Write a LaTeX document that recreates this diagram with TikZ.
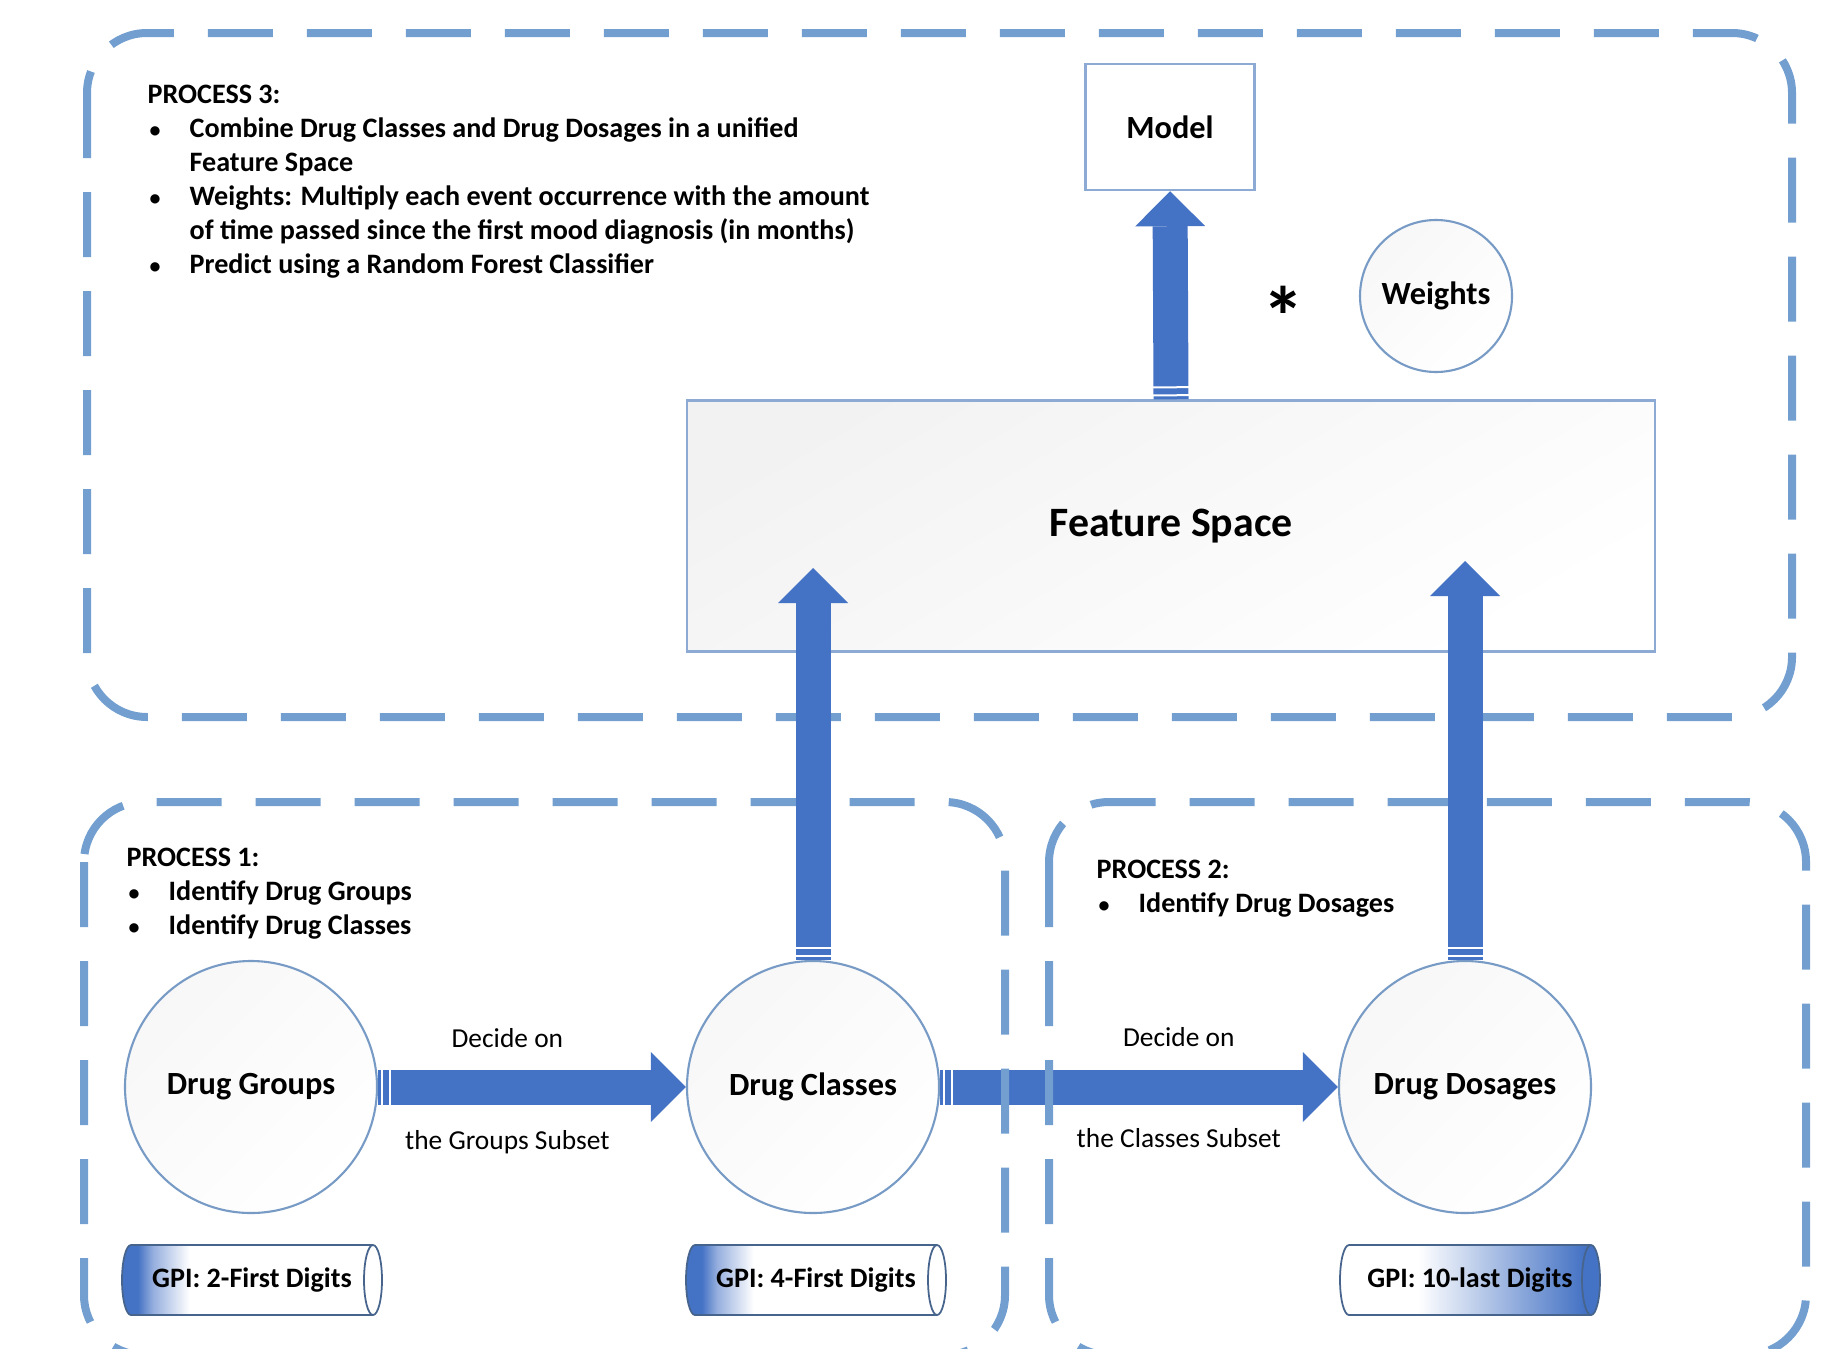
\documentclass[tikz,border=0pt]{standalone}
\usepackage{fontspec}
\setmainfont{Carlito}
\usetikzlibrary{calc,arrows.meta,positioning,decorations.markings}
\definecolor{procdash}{RGB}{114,159,207}
\definecolor{arrowblue}{RGB}{68,114,196}
\definecolor{gpimid}{RGB}{150,175,222}
\definecolor{nodeline}{RGB}{120,155,198}
\definecolor{boxline}{RGB}{140,170,212}
\definecolor{cylline}{RGB}{70,100,140}
\pgfdeclarehorizontalshading{gpileft}{100bp}{color(0bp)=(arrowblue); color(28bp)=(arrowblue); color(31bp)=(gpimid); color(38bp)=(white); color(100bp)=(white)}
\pgfdeclarehorizontalshading{gpiright}{100bp}{color(0bp)=(white); color(40bp)=(white); color(72bp)=(arrowblue); color(100bp)=(arrowblue)}
\newcommand{\pitem}[1]{\makebox[0.42cm][l]{\hspace{0.02cm}\scalebox{0.78}{\textbullet}}#1}
\newcommand{\pcont}[1]{\hspace*{0.42cm}#1}
\newcommand{\gpicyl}[4]{%
  \shade[shading=#3, draw=cylline, line width=0.5pt] ($(#2)+(1.21,0.35)$) -- ($(#2)+(-1.21,0.35)$)
    arc[start angle=90, end angle=270, x radius=0.09, y radius=0.35] -- ($(#2)+(1.21,-0.35)$)
    arc[start angle=-90, end angle=90, x radius=0.09, y radius=0.35] -- cycle;
  \draw[cylline, line width=0.5pt] ($(#2)+(1.21,-0.35)$) arc[start angle=270, end angle=90, x radius=0.09, y radius=0.35];
  \node[gpitext] (#1) at (#2) {#4};}
\tikzset{
  procbox/.style={draw=procdash, line width=0.08cm, rounded corners=0.6cm, dash pattern=on 0.65cm off 0.34cm},
  drugnode/.style={circle, draw=nodeline, line width=0.6pt, minimum size=2.52cm, inner sep=0pt,
                   top color=black!3, bottom color=white, shading angle=45,
                   font=\fontsize{9.2}{11}\selectfont\bfseries},
  featbox/.style={rectangle, draw=boxline, line width=0.7pt, minimum width=9.68cm, minimum height=2.51cm,
                  top color=black!5, bottom color=white, shading angle=30,
                  font=\fontsize{11.9}{14}\selectfont\bfseries},
  modelbox/.style={rectangle, draw=boxline, fill=white, line width=0.7pt, minimum width=1.69cm,
                   minimum height=1.26cm, font=\fontsize{9.2}{11}\selectfont\bfseries},
  proctext/.style={anchor=base west, inner sep=0pt, font=\fontsize{8}{9.73}\selectfont\bfseries},
  gpitext/.style={inner sep=0pt, font=\fontsize{8}{10}\selectfont\bfseries},
  arrowlabel/.style={inner sep=0pt, text=black, font=\fontsize{7.8}{9.5}\selectfont},
  gstripe/.style={-, draw=white, line width=0.02cm},
  gblock/.style={arrowblue, line width=0.35cm, -{Triangle[length=0.35cm, width=0.70cm, line width=0pt]},
                 postaction={decorate, decoration={markings,
                   mark=at position 0.04cm with {\draw[gstripe] (0,-0.18) -- (0,0.18);},
                   mark=at position 0.12cm with {\draw[gstripe] (0,-0.18) -- (0,0.18);}}}},
}
\begin{document}
\begin{tikzpicture}
\useasboundingbox (0,0) rectangle (18.28,-13.48);
\clip (0,0) rectangle (18.28,-13.48);
% process 3
\draw[procbox] (0.87,-0.33) rectangle (17.92,-7.17);
\node[proctext] (p3) at (1.47,-1.03) {\begin{tabular}[t]{@{}l@{}}PROCESS 3:\\
  \pitem{Combine Drug Classes and Drug Dosages in a unified}\\
  \pcont{Feature Space}\\
  \pitem{Weights: Multiply each event occurrence with the amount}\\
  \pcont{of time passed since the first mood diagnosis (in months)}\\
  \pitem{Predict using a Random Forest Classifier}\end{tabular}};
\node[featbox] (fs) at (11.71,-5.26) {Feature Space};
\node[modelbox] (model) at (11.70,-1.27) {Model};
\node[drugnode, minimum size=1.52cm] (weights) at (14.36,-2.96) {Weights};
\node[inner sep=0pt, font=\fontsize{24}{24}\selectfont\bfseries] (times) at (12.83,-3.16) {*};
% process 1 and 2
\node[proctext] (p1) at (1.26,-8.66) {\begin{tabular}[t]{@{}l@{}}PROCESS 1:\\
  \pitem{Identify Drug Groups}\\
  \pitem{Identify Drug Classes}\end{tabular}};
\node[proctext] (p2) at (10.96,-8.78) {\begin{tabular}[t]{@{}l@{}}PROCESS 2:\\
  \pitem{Identify Drug Dosages}\end{tabular}};
\node[drugnode] (groups)  at (2.51,-10.87)  {Drug Groups};
\node[drugnode] (classes) at (8.13,-10.87)  {Drug Classes};
\node[drugnode] (dosages) at (14.65,-10.87) {Drug Dosages};
\gpicyl{gpi2}{2.52,-12.80}{gpileft}{GPI: 2-First Digits}
\gpicyl{gpi4}{8.16,-12.80}{gpileft}{GPI: 4-First Digits}
\gpicyl{gpi10}{14.70,-12.80}{gpiright}{GPI: 10-last Digits}
\draw[gblock] (groups.east) --
  node[arrowlabel, pos=0.42, above=0.215cm] (dec1) {Decide on}
  node[arrowlabel, pos=0.42, below=0.26cm] (sub1) {the Groups Subset} (classes.west);
\draw[gblock] (classes.east) --
  node[arrowlabel, pos=0.60, above=0.23cm] (dec2) {Decide on}
  node[arrowlabel, pos=0.60, below=0.24cm] (sub2) {the Classes Subset} (dosages.west);
\draw[procbox] (0.84,-8.02) rectangle (10.05,-13.55);
\draw[procbox] (10.49,-8.02) rectangle (18.06,-13.55);
% into the feature space
\coordinate (fsin1) at (8.13,-5.68);
\coordinate (fsin2) at (14.65,-5.61);
\draw[gblock] (classes.north) -- (fsin1);
\draw[gblock] (dosages.north) -- (fsin2);
\draw[gblock] (fs.north) -- (model.south);
\end{tikzpicture}
\end{document}
